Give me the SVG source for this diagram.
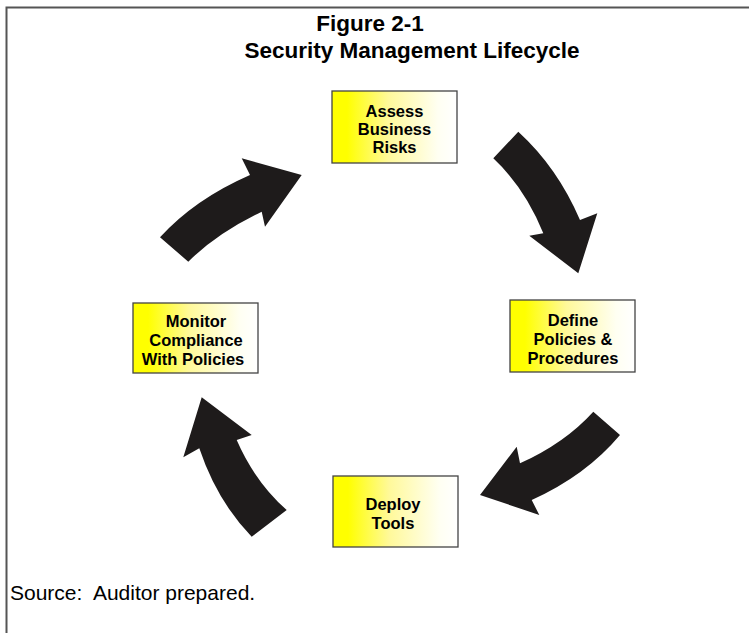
<svg xmlns="http://www.w3.org/2000/svg" width="749" height="633" viewBox="0 0 749 633">
<defs>
<linearGradient id="yg" x1="0" y1="0" x2="1" y2="0">
<stop offset="0" stop-color="#ffff00"/>
<stop offset="0.12" stop-color="#ffff00"/>
<stop offset="0.45" stop-color="#fff99a"/>
<stop offset="0.85" stop-color="#fffff2"/>
<stop offset="1" stop-color="#ffffff"/>
</linearGradient>
</defs>
<style>
.box{fill:url(#yg);stroke:#444;stroke-width:1.3}
.lbl{font-family:"Liberation Sans",Arial,sans-serif;font-weight:bold;font-size:16.5px;fill:#000;text-anchor:middle}
.ttl{font-family:"Liberation Sans",Arial,sans-serif;font-weight:bold;font-size:22.5px;fill:#000;text-anchor:middle}
.src{font-family:"Liberation Sans",Arial,sans-serif;font-size:21px;fill:#000;white-space:pre}
.arr{fill:#1e1b1b}
.frame{stroke:#555;stroke-width:2;fill:none}
</style>
<rect width="749" height="633" fill="#fff"/>
<path class="frame" d="M6.5,633 V7.5 H749"/>
<text class="ttl" x="370" y="31">Figure 2-1</text>
<text class="ttl" x="412" y="58">Security Management Lifecycle</text>
<g id="assess">
<rect class="box" x="332" y="91" width="125" height="72"/>
<text class="lbl" x="394.5" y="117">Assess</text>
<text class="lbl" x="394.5" y="135">Business</text>
<text class="lbl" x="394.5" y="153">Risks</text>
</g>
<g id="define">
<rect class="box" x="510" y="300" width="125" height="72"/>
<text class="lbl" x="573" y="326">Define</text>
<text class="lbl" x="573" y="345">Policies &amp;</text>
<text class="lbl" x="573" y="364">Procedures</text>
</g>
<g id="deploy">
<rect class="box" x="333" y="476" width="125" height="71"/>
<text class="lbl" x="393" y="510">Deploy</text>
<text class="lbl" x="393" y="529">Tools</text>
</g>
<g id="monitor">
<rect class="box" x="133" y="303" width="125" height="70"/>
<text class="lbl" x="196" y="327">Monitor</text>
<text class="lbl" x="196" y="346">Compliance</text>
<text class="lbl" x="193" y="365">With Policies</text>
</g>
<g id="connectors">
<path class="arr" d="M518.3,131.7 Q557.5,167.5 580,220 L597.3,213.3 L578.3,273.3 L529.3,235.7 L543.3,233.3 Q525,188 493.3,158.3 Z"/>
<path class="arr" d="M593.3,411.7 Q565,443 520,463.3 L516.7,446.7 L480,495 L539.3,515 L531.7,500 Q586,475.5 620,435 Z"/>
<path class="arr" d="M286.7,510 Q255,482 236.7,440 L251.7,435 L201.7,397.3 L183.3,457.3 L199.3,448.3 Q217,501 251.7,536.7 Z"/>
<path class="arr" d="M160,237.3 Q195,199 250,175 L241.7,158.3 L301.7,175 L265,226.7 L261.7,211.7 Q217,233 188.3,261.7 Z"/>
</g>
<text class="src" x="10" y="600" xml:space="preserve">Source:  Auditor prepared.</text>
</svg>
